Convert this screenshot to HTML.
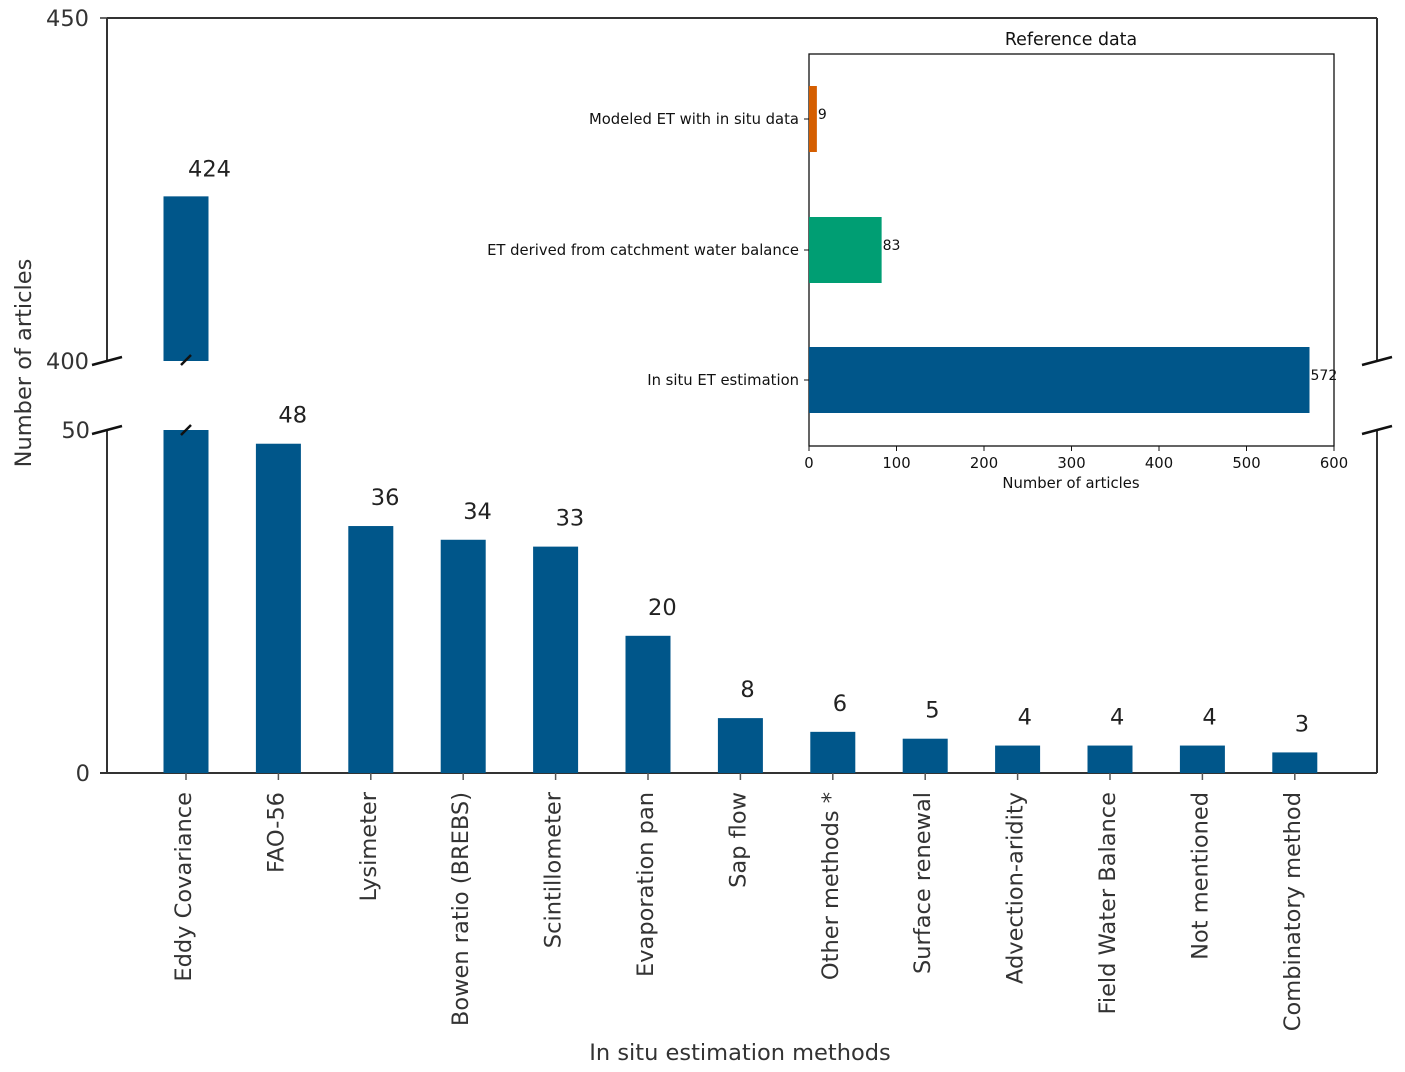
<!DOCTYPE html>
<html><head><meta charset="utf-8"><style>
html,body{margin:0;padding:0;background:#fff;}
svg{display:block;font-family:"DejaVu Sans","Liberation Sans",sans-serif;}
</style></head><body>
<svg id="chart" width="1405" height="1072" viewBox="0 0 1405 1072">
<g id="main"></g>
<g id="inset"></g>
</svg>
<script>
const categories = ["Eddy Covariance","FAO-56","Lysimeter","Bowen ratio (BREBS)","Scintillometer","Evaporation pan","Sap flow","Other methods *","Surface renewal","Advection-aridity","Field Water Balance","Not mentioned","Combinatory method"];
const counts = [424,48,36,34,33,20,8,6,5,4,4,4,3];
const lowTicks = [0,50];
const highTicks = [400,450];
const insetCategories = ["Modeled ET with in situ data","ET derived from catchment water balance","In situ ET estimation"];
const insetValues = [9,83,572];
const insetColors = ["#d55e00","#009e73","#00568a"];
const insetTicks = [0,100,200,300,400,500,600];

const NS="http://www.w3.org/2000/svg";
function mk(parent,tag,attrs,text){const e=document.createElementNS(NS,tag);for(const k in attrs)e.setAttribute(k,attrs[k]);if(text!==undefined)e.textContent=text;parent.appendChild(e);return e;}

const L=107,R=1377;
const lowY=v=>773-(v-0)*(343/50);
const highY=v=>361-(v-400)*(343/50);
const xC=i=>186+i*92.4;
const bw=45;
const FS=22.5;
const main=document.getElementById('main');
const ax='#333';
let s;
s=mk(main,'line',{x1:L,y1:18,x2:R,y2:18,stroke:ax,'stroke-width':2});

s=mk(main,'line',{x1:L,y1:18,x2:L,y2:361,stroke:ax,'stroke-width':2});

s=mk(main,'line',{x1:R,y1:18,x2:R,y2:361,stroke:ax,'stroke-width':2});

s=mk(main,'line',{x1:L,y1:430,x2:L,y2:773,stroke:ax,'stroke-width':2});

s=mk(main,'line',{x1:R,y1:430,x2:R,y2:773,stroke:ax,'stroke-width':2});

s=mk(main,'line',{x1:100,y1:773,x2:R,y2:773,stroke:ax,'stroke-width':2});


lowTicks.forEach(t=>{const y=lowY(t);
 if(t!==50){const l=mk(main,'line',{x1:100,y1:y,x2:L,y2:y,stroke:ax,'stroke-width':1.5});}
 const tx=mk(main,'text',{x:90,y:y+8,'text-anchor':'end','font-size':FS,fill:'#333'},String(t));
 });
highTicks.forEach(t=>{const y=highY(t);
 if(t!==400){const l=mk(main,'line',{x1:100,y1:y,x2:L,y2:y,stroke:ax,'stroke-width':1.5});}
 const tx=mk(main,'text',{x:89,y:y+8,'text-anchor':'end','font-size':FS,fill:'#333'},String(t));
 });

counts.forEach((v,i)=>{const cx=xC(i);
 if(v>50){
  const r1=mk(main,'rect',{x:cx-bw/2,y:lowY(50),width:bw,height:773-lowY(50),fill:'#00568a'});
  
  const r2=mk(main,'rect',{x:cx-bw/2,y:highY(v),width:bw,height:361-highY(v),fill:'#00568a'});
  
  const b1=mk(main,'line',{x1:cx-5,y1:365,x2:cx+5,y2:355,stroke:'#111','stroke-width':2.5});
  
  const b2=mk(main,'line',{x1:cx-5,y1:435,x2:cx+5,y2:425,stroke:'#111','stroke-width':2.5});
  
  const lb=mk(main,'text',{x:cx+2,y:highY(v)-20,'font-size':FS,fill:'#222'},String(v));
  
 } else {
  const r=mk(main,'rect',{x:cx-bw/2,y:lowY(v),width:bw,height:773-lowY(v),fill:'#00568a'});
  
  const lb=mk(main,'text',{x:cx,y:lowY(v)-21,'font-size':FS,fill:'#222'},String(v));
  
 }
 const tk=mk(main,'line',{x1:cx,y1:773,x2:cx,y2:780,stroke:'#555','stroke-width':1.5});
 
 const tl=mk(main,'text',{x:0,y:0,'text-anchor':'end','font-size':FS,fill:'#333',transform:`translate(${cx+5},792) rotate(-90)`},categories[i]);
 
});

[361,430].forEach(y=>{
 [L,R].forEach(x=>{const l=mk(main,'line',{x1:x-15,y1:y+4,x2:x+15,y2:y-4,stroke:'#111','stroke-width':2.5});
 });
});

let t=mk(main,'text',{x:740,y:1060,'text-anchor':'middle','font-size':FS,fill:'#333'},'In situ estimation methods');

t=mk(main,'text',{x:0,y:0,'text-anchor':'middle','font-size':FS,fill:'#333',transform:'translate(31,363) rotate(-90)'},'Number of articles');


const inset=document.getElementById('inset');
const IL=809,IR=1334,IT=54,IB=446;
const ix=v=>IL+v*(IR-IL)/600;
const iyC=[119,250,380];
let bg=mk(inset,'rect',{x:IL,y:IT,width:IR-IL,height:IB-IT,fill:'#fff',stroke:'#111','stroke-width':1.3});

insetValues.forEach((v,i)=>{const yc=iyC[i];
 const r=mk(inset,'rect',{x:IL,y:yc-33,width:ix(v)-IL,height:66,fill:insetColors[i]});
 
 const lb=mk(inset,'text',{x:ix(v)+1,y:yc,'font-size':14,fill:'#111'},String(v));
 
 const tk=mk(inset,'line',{x1:IL-5,y1:yc,x2:IL,y2:yc,stroke:'#111','stroke-width':1});
 
 const tl=mk(inset,'text',{x:IL-10,y:yc+5,'text-anchor':'end','font-size':14.8,fill:'#111'},insetCategories[i]);
 
});
insetTicks.forEach(v=>{const x=ix(v);
 const tk=mk(inset,'line',{x1:x,y1:IB,x2:x,y2:IB+5,stroke:'#111','stroke-width':1});
 
 const tl=mk(inset,'text',{x:x,y:IB+22,'text-anchor':'middle','font-size':14.8,fill:'#111'},String(v));
 
});
t=mk(inset,'text',{x:1071,y:488,'text-anchor':'middle','font-size':14.8,fill:'#111'},'Number of articles');

t=mk(inset,'text',{x:1071,y:45,'text-anchor':'middle','font-size':17.4,fill:'#111'},'Reference data');

</script>
</body></html>
